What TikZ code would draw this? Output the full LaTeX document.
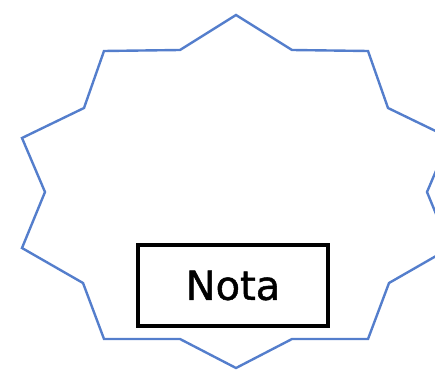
\documentclass[tikz,border=0pt]{standalone}
\usepackage{fontspec}
\setmainfont{DejaVu Sans}
\newfontfamily\notafont[FakeBold=1.2]{DejaVu Sans}
\begin{document}
\begin{tikzpicture}[x=1pt,y=-1pt,
  starline/.style={draw={rgb,255:red,84;green,126;blue,204}, line width=2.4pt, line join=miter},
  notebox/.style={draw=black, line width=3.6pt, minimum width=190pt, minimum height=81pt, inner sep=0pt, font=\notafont\fontsize{40}{48}\selectfont}]
\useasboundingbox (0,0) rectangle (435,371);
\begin{scope}
\clip (0,0) rectangle (435,371);
\draw[starline] (236,15) -- (180,50) -- (104,51) -- (84,108) -- (22,138) -- (45,192) -- (22,248) -- (83,283) -- (104,339) -- (180,339) -- (236,368) -- (292,339) -- (368,339) -- (389,283) -- (450,248) -- (427,192) -- (450,138) -- (388,108) -- (368,51) -- (292,50) -- cycle;
\end{scope}
\node[notebox] (nota) at (233,285.5) {Nota};
\end{tikzpicture}
\end{document}
